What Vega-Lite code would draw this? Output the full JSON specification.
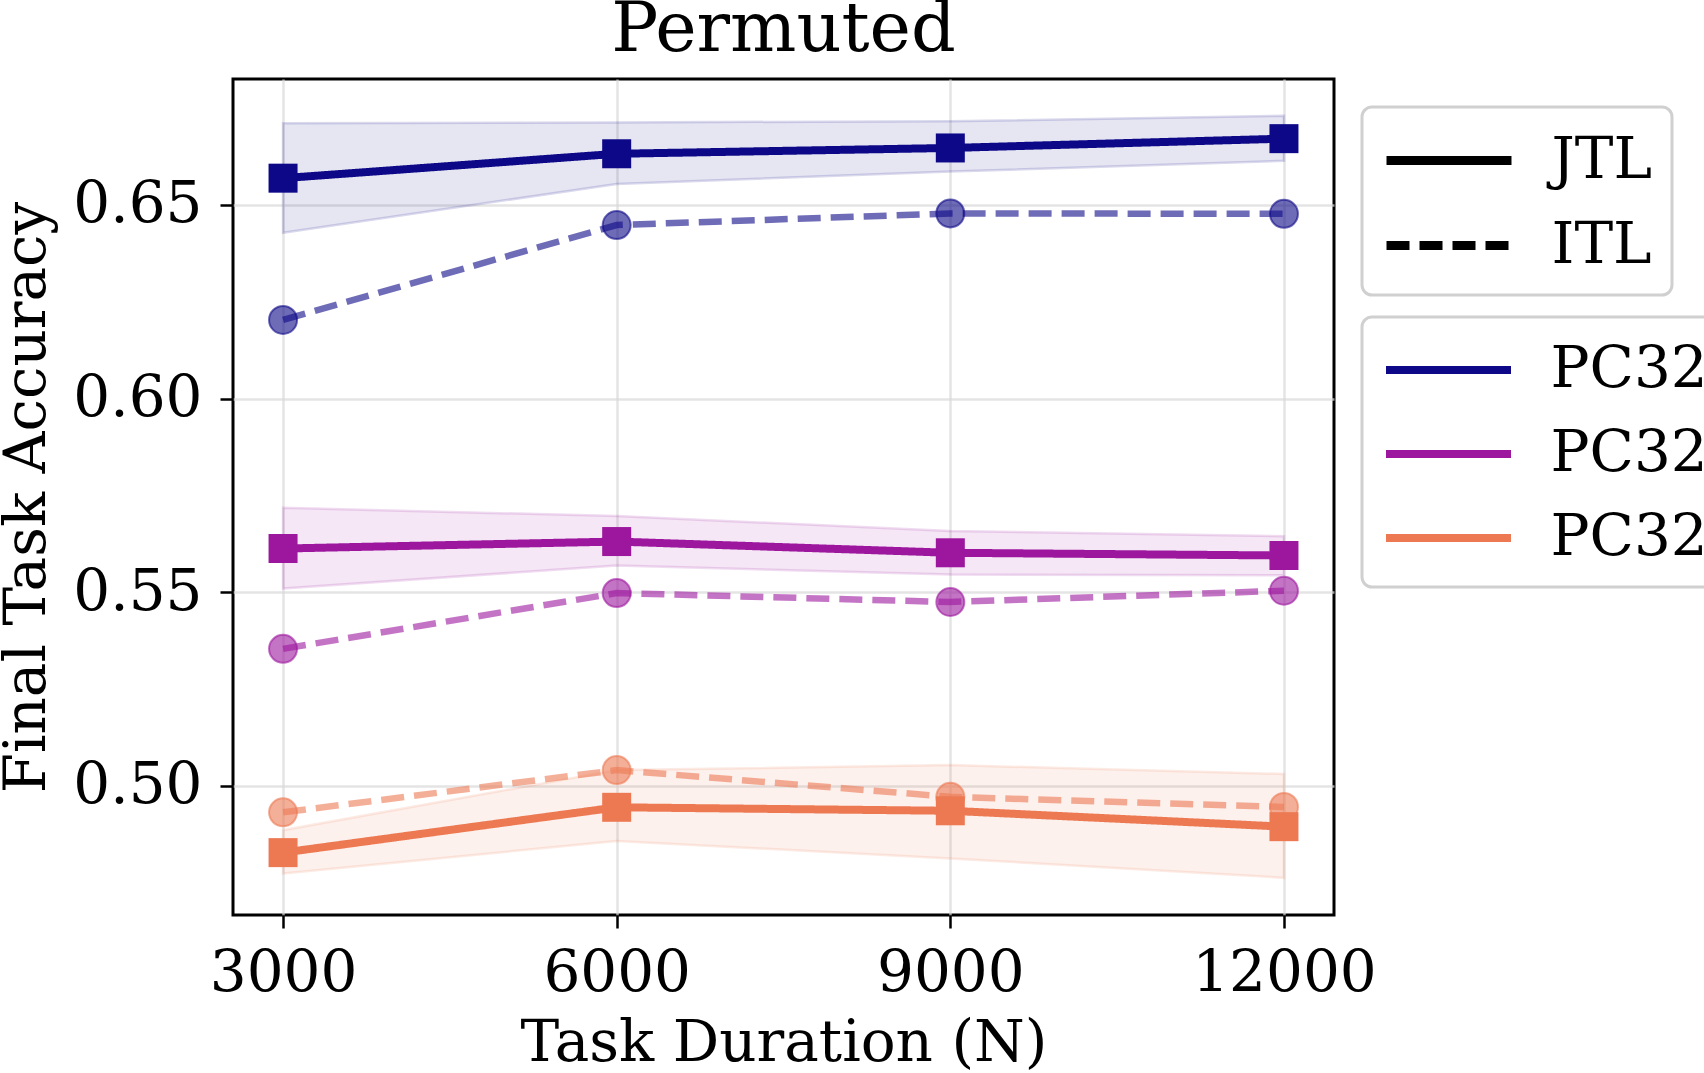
{
  "$schema": "https://vega.github.io/schema/vega-lite/v6.json",
  "width": 1101,
  "height": 836,
  "autosize": {"type": "none"},
  "padding": {"left": 233, "top": 79, "right": 370, "bottom": 158},
  "background": "white",
  "title": {"text": "Permuted", "fontSize": 70, "font": "DejaVu Serif", "fontWeight": "normal", "anchor": "middle", "baseline": "bottom", "frame": "group", "offset": -57, "color": "black"},
  "config": {
    "font": "DejaVu Serif",
    "view": {"stroke": "black", "strokeWidth": 3},
    "axis": {
      "labelFont": "DejaVu Serif", "labelFontSize": 58, "labelColor": "black", "labelLimit": 500,
      "titleFont": "DejaVu Serif", "titleFontSize": 58, "titleFontWeight": "normal", "titleColor": "black",
      "tickColor": "black", "tickSize": 13, "tickWidth": 2.5, "domain": false,
      "grid": true, "gridColor": "#d9d9d9", "gridWidth": 2.5, "gridOpacity": 0.7,
      "labelFlush": false, "labelOverlap": false
    },
    "axisX": {"labelPadding": 16, "titlePadding": 12},
    "axisY": {"labelPadding": 18, "titlePadding": 16},
    "legend": {
      "labelFont": "DejaVu Serif", "labelFontSize": 58, "labelColor": "black", "labelLimit": 500,
      "strokeColor": "#d0d0d0", "fillColor": "white", "cornerRadius": 10,
      "padding": 20, "rowPadding": 22, "labelOffset": 69, "symbolOffset": 33.5, "strokeWidth": 3
    }
  },
  "data": {"values": [
    {"N": 3000, "method": "JTL", "series": "PC32 #1", "acc": 0.6569, "lo": 0.6428, "hi": 0.6711},
    {"N": 6000, "method": "JTL", "series": "PC32 #1", "acc": 0.6632, "lo": 0.6554, "hi": 0.6713},
    {"N": 9000, "method": "JTL", "series": "PC32 #1", "acc": 0.6647, "lo": 0.6586, "hi": 0.6716},
    {"N": 12000, "method": "JTL", "series": "PC32 #1", "acc": 0.6671, "lo": 0.6614, "hi": 0.6730},
    {"N": 3000, "method": "ITL", "series": "PC32 #1", "acc": 0.6203},
    {"N": 6000, "method": "ITL", "series": "PC32 #1", "acc": 0.6448},
    {"N": 9000, "method": "ITL", "series": "PC32 #1", "acc": 0.6478},
    {"N": 12000, "method": "ITL", "series": "PC32 #1", "acc": 0.6477},
    {"N": 3000, "method": "JTL", "series": "PC32 #2", "acc": 0.5613, "lo": 0.5510, "hi": 0.5718},
    {"N": 6000, "method": "JTL", "series": "PC32 #2", "acc": 0.5631, "lo": 0.5569, "hi": 0.5697},
    {"N": 9000, "method": "JTL", "series": "PC32 #2", "acc": 0.5602, "lo": 0.5546, "hi": 0.5658},
    {"N": 12000, "method": "JTL", "series": "PC32 #2", "acc": 0.5595, "lo": 0.5544, "hi": 0.5645},
    {"N": 3000, "method": "ITL", "series": "PC32 #2", "acc": 0.5354},
    {"N": 6000, "method": "ITL", "series": "PC32 #2", "acc": 0.5498},
    {"N": 9000, "method": "ITL", "series": "PC32 #2", "acc": 0.5475},
    {"N": 12000, "method": "ITL", "series": "PC32 #2", "acc": 0.5504},
    {"N": 3000, "method": "JTL", "series": "PC32 #3", "acc": 0.4828, "lo": 0.4774, "hi": 0.4886},
    {"N": 6000, "method": "JTL", "series": "PC32 #3", "acc": 0.4945, "lo": 0.4858, "hi": 0.5041},
    {"N": 9000, "method": "JTL", "series": "PC32 #3", "acc": 0.4936, "lo": 0.4813, "hi": 0.5054},
    {"N": 12000, "method": "JTL", "series": "PC32 #3", "acc": 0.4895, "lo": 0.4763, "hi": 0.5031},
    {"N": 3000, "method": "ITL", "series": "PC32 #3", "acc": 0.4932},
    {"N": 6000, "method": "ITL", "series": "PC32 #3", "acc": 0.5041},
    {"N": 9000, "method": "ITL", "series": "PC32 #3", "acc": 0.4972},
    {"N": 12000, "method": "ITL", "series": "PC32 #3", "acc": 0.4946}
  ]},
  "encoding": {
    "x": {"field": "N", "type": "quantitative",
      "scale": {"domain": [2550, 12450], "nice": false, "zero": false},
      "axis": {"values": [3000, 6000, 9000, 12000], "format": "d", "title": "Task Duration (N)"}},
    "y": {"field": "acc", "type": "quantitative",
      "scale": {"domain": [0.4667, 0.6825], "nice": false, "zero": false},
      "axis": {"values": [0.5, 0.55, 0.6, 0.65], "format": ".2f", "title": "Final Task Accuracy"}}
  },
  "layer": [
    {
      "transform": [{"filter": "datum.method === 'JTL'"}],
      "mark": {"type": "area", "fillOpacity": 0.1, "strokeOpacity": 0.15, "strokeWidth": 2.5},
      "encoding": {
        "y": {"field": "lo", "type": "quantitative"},
        "y2": {"field": "hi"},
        "fill": {"field": "series", "type": "nominal", "legend": null,
          "scale": {"domain": ["PC32 #3", "PC32 #2", "PC32 #1"], "range": ["#ed7953", "#9c179e", "#0d0887"]}},
        "stroke": {"field": "series", "type": "nominal", "legend": null,
          "scale": {"domain": ["PC32 #3", "PC32 #2", "PC32 #1"], "range": ["#ed7953", "#9c179e", "#0d0887"]}}
      }
    },
    {
      "transform": [{"filter": "datum.method === 'ITL'"}],
      "mark": {"type": "line", "strokeWidth": 6.5, "opacity": 0.6},
      "encoding": {
        "stroke": {"field": "series", "type": "nominal", "legend": null},
        "strokeDash": {"field": "method", "type": "nominal",
          "scale": {"domain": ["JTL", "ITL"], "range": [[1, 0], [23, 10]]},
          "legend": {"title": null, "orient": "none", "legendX": 1129, "legendY": 28, "symbolStrokeColor": "black", "symbolSize": 3364, "symbolStrokeWidth": 9, "symbolType": "M-2.155,0H2.155", "symbolOpacity": 1}}
      }
    },
    {
      "transform": [{"filter": "datum.method === 'ITL'"}],
      "mark": {"type": "point", "shape": "circle", "filled": true, "size": 784, "fillOpacity": 0.6, "strokeOpacity": 0.6, "strokeWidth": 2},
      "encoding": {
        "fill": {"field": "series", "type": "nominal", "legend": null},
        "stroke": {"field": "series", "type": "nominal", "legend": null}
      }
    },
    {
      "transform": [{"filter": "datum.method === 'JTL'"}],
      "mark": {"type": "line", "strokeWidth": 8},
      "encoding": {
        "color": {"field": "series", "type": "nominal",
          "scale": {"domain": ["PC32 #1", "PC32 #2", "PC32 #3"], "range": ["#0d0887", "#9c179e", "#ed7953"]},
          "legend": {"title": null, "orient": "none", "legendX": 1129, "legendY": 238, "labelExpr": "'PC32'", "symbolType": "M-2.155,0H2.155", "symbolSize": 3364, "symbolStrokeWidth": 8}},
        "strokeDash": {"field": "method", "type": "nominal"}
      }
    },
    {
      "transform": [{"filter": "datum.method === 'JTL'"}],
      "mark": {"type": "point", "shape": "square", "filled": true, "size": 841, "opacity": 1},
      "encoding": {
        "fill": {"field": "series", "type": "nominal", "legend": null}
      }
    }
  ]
}
